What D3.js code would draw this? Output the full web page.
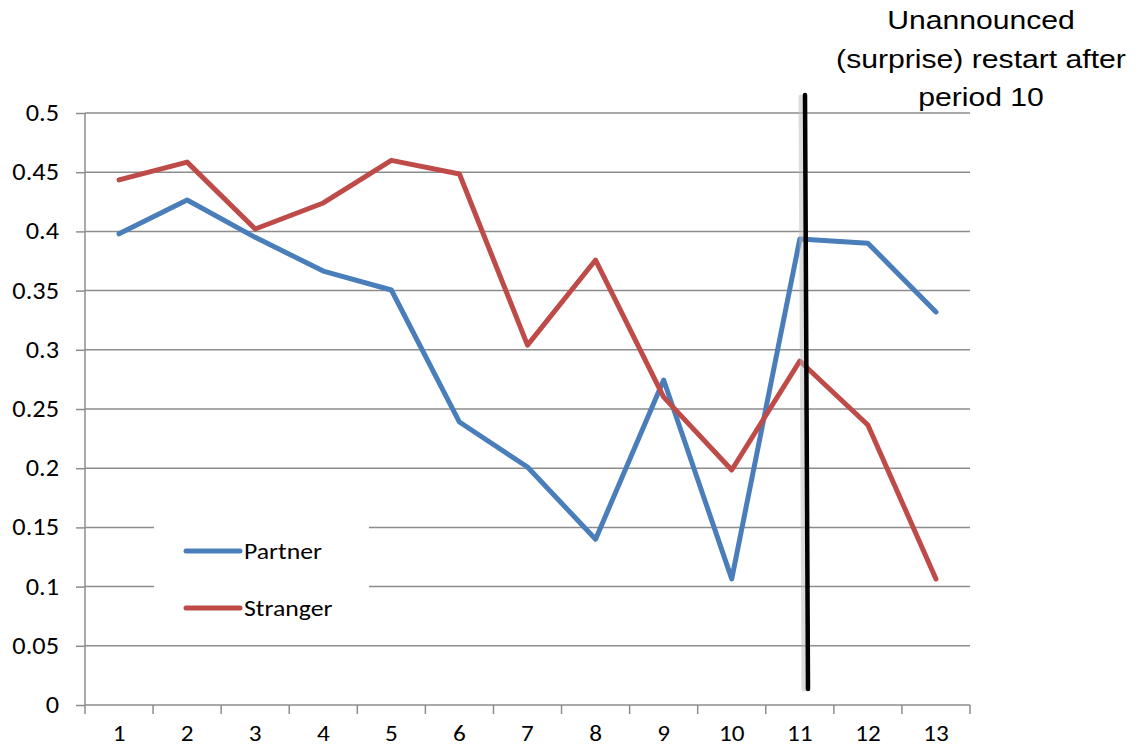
<!DOCTYPE html>
<html><head><meta charset="utf-8">
<script src="https://cdn.jsdelivr.net/npm/d3@7"></script>
<style>body{margin:0;background:#fff}svg{display:block}</style>
</head><body>
<svg id="c" width="1136" height="749"></svg>
<script>
const periods = [1,2,3,4,5,6,7,8,9,10,11,12,13];
const partner = [0.398,0.4265,0.395,0.3665,0.3505,0.239,0.201,0.140,0.2745,0.1065,0.3935,0.390,0.332];
const stranger = [0.4435,0.4585,0.402,0.424,0.460,0.4485,0.304,0.3758,0.260,0.1985,0.2905,0.2365,0.1065];
const yTicks = [0,0.05,0.1,0.15,0.2,0.25,0.3,0.35,0.4,0.45,0.5];
const seriesNames = ["Partner","Stranger"];
const annotation = ["Unannounced","(surprise) restart after","period 10"];

const svg = d3.select("#c");
const L=85,R=970,T=113,B=705;
const SX = 1.12;
const x = d3.scaleBand().domain(periods).range([L,R]);
const y = d3.scaleLinear().domain([0,0.5]).range([B,T]);
const font = "Carlito, Lato, 'Open Sans', sans-serif";

// gridlines
svg.append("g").selectAll("line").data(yTicks.filter(d=>d>0)).join("line")
  .attr("x1",L).attr("x2",R).attr("y1",d=>y(d)).attr("y2",d=>y(d))
  .attr("stroke","#8c8c8c").attr("stroke-width",1.5);

// y axis
const ya = svg.append("g").attr("transform",`translate(${L},0)`)
  .call(d3.axisLeft(y).tickValues(yTicks).tickFormat(d=>String(d)).tickSize(9).tickPadding(17));
ya.select(".domain").attr("stroke","#8c8c8c").attr("stroke-width",1.5).attr("d",`M0,${B}V${T}`);
ya.selectAll(".tick line").attr("stroke","#8c8c8c").attr("stroke-width",1.5);
ya.selectAll("text").attr("font-family",font).attr("font-size",23.5).attr("fill","#000")
  .each(function(){const t=d3.select(this);const tx=+t.attr("x");t.attr("x",0).attr("transform",`translate(${tx},0) scale(${SX},1)`);});

// x axis
const xa = svg.append("g").attr("transform",`translate(0,${B})`)
  .call(d3.axisBottom(x).tickSize(0).tickPadding(0));
xa.select(".domain").attr("stroke","#8c8c8c").attr("stroke-width",1.5).attr("d",`M${L},0H${R}`);
xa.selectAll("text").attr("font-family",font).attr("font-size",22.5).attr("fill","#000")
  .attr("dy",null).attr("y",0).attr("transform",`translate(0,36) scale(${SX},1)`);
xa.selectAll(".tick").each(function(){
  const g=d3.select(this); const tr=g.attr("transform"); const m=/translate\(([-\d.]+),/.exec(tr);
  g.attr("transform",`translate(${m[1]},0)`);
});
const bounds = periods.map(p=>x(p)).concat([R]);
svg.append("g").selectAll("line").data(bounds).join("line")
  .attr("x1",d=>d).attr("x2",d=>d).attr("y1",B).attr("y2",B+9)
  .attr("stroke","#8c8c8c").attr("stroke-width",1.5);

// legend background
svg.append("rect").attr("x",154).attr("y",505).attr("width",215).attr("height",128).attr("fill","#fff");

const line = d3.line().x((d,i)=>x(periods[i])+x.bandwidth()/2).y(d=>y(d));
const colors = ["#4a7ebb","#be4b48"];
[partner,stranger].forEach((s,i)=>{
  svg.append("path").datum(s).attr("d",line).attr("fill","none")
    .attr("stroke",colors[i]).attr("stroke-width",5).attr("stroke-linejoin","round").attr("stroke-linecap","round");
});

// legend
seriesNames.forEach((n,i)=>{
  const ly = 551 + i*57;
  svg.append("line").attr("x1",186).attr("x2",240).attr("y1",ly).attr("y2",ly)
    .attr("stroke",colors[i]).attr("stroke-width",5).attr("stroke-linecap","round");
  svg.append("text").attr("transform",`translate(244,${ly+8}) scale(${SX},1)`).text(n)
    .attr("font-family",font).attr("font-size",23).attr("fill","#000");
});

// vertical restart line
svg.append("line").attr("x1",801).attr("x2",804).attr("y1",97).attr("y2",689)
  .attr("stroke","#bbb").attr("stroke-width",5).attr("opacity",0.5).attr("stroke-linecap","round");
svg.append("line").attr("x1",805).attr("x2",808).attr("y1",95).attr("y2",689)
  .attr("stroke","#000").attr("stroke-width",4.5).attr("stroke-linecap","round");

// annotation
svg.append("g").selectAll("text").data(annotation).join("text")
  .attr("transform",(d,i)=>`translate(981,${29+i*38.5}) scale(1.16,1)`).attr("text-anchor","middle")
  .attr("font-family","'Liberation Sans', Arial, sans-serif").attr("font-size",26).attr("fill","#000")
  .text(d=>d);
</script>
</body></html>
